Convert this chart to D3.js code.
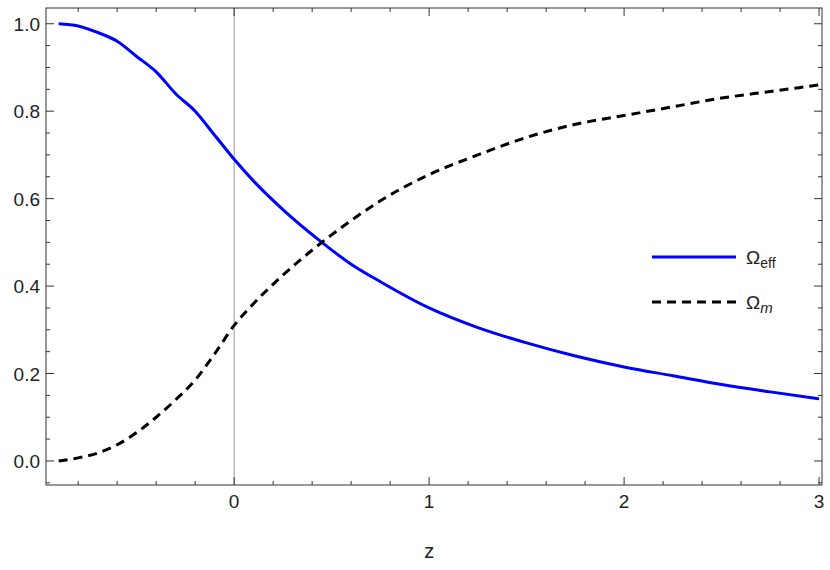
<!DOCTYPE html>
<html><head><meta charset="utf-8">
<script src="https://cdn.jsdelivr.net/npm/d3@7"></script>
<style>body{margin:0;background:#fff}text{font-family:"Liberation Sans",Arial,sans-serif}</style>
</head><body>
<script>
var zValues = [-0.9, -0.8, -0.7, -0.6, -0.5, -0.4, -0.3, -0.2, -0.1, 0, 0.1, 0.25, 0.45, 0.6, 0.75, 1, 1.25, 1.5, 1.75, 2, 2.25, 2.5, 2.75, 3];
var omegaEff = [1.0, 0.995, 0.98, 0.96, 0.925, 0.89, 0.84, 0.8, 0.745, 0.69, 0.64, 0.575, 0.5, 0.45, 0.41, 0.35, 0.305, 0.27, 0.24, 0.215, 0.195, 0.175, 0.158, 0.142];
var omegaM = [0.0, 0.007, 0.018, 0.037, 0.065, 0.1, 0.14, 0.185, 0.245, 0.31, 0.36, 0.425, 0.5, 0.55, 0.595, 0.655, 0.7, 0.74, 0.77, 0.79, 0.81, 0.83, 0.845, 0.86];
var xTicks = [0, 1, 2, 3];
var yTicks = [0, 0.2, 0.4, 0.6, 0.8, 1.0];

var width = 830, height = 570;
var pLeft = 46, pRight = 822, pTop = 8, pBottom = 485;

var svg = d3.select("body").append("svg").attr("width", width).attr("height", height);

var x = d3.scaleLinear().domain([-0.965, 3.015]).range([pLeft, pRight]);
var y = d3.scaleLinear().domain([-0.055, 1.036]).range([pBottom, pTop]);

// zero line
svg.append("line").attr("x1", x(0)).attr("x2", x(0)).attr("y1", pTop).attr("y2", pBottom)
  .attr("stroke", "#999").attr("stroke-width", 1);

// frame
svg.append("rect").attr("x", pLeft).attr("y", pTop).attr("width", pRight - pLeft).attr("height", pBottom - pTop)
  .attr("fill", "none").attr("stroke", "#333").attr("stroke-width", 1);

var g = svg.append("g").attr("stroke", "#333").attr("stroke-width", 1);
d3.range(-0.8, 3.01, 0.2).forEach(function (v) {
  v = Math.round(v * 10) / 10;
  var len = xTicks.indexOf(v) >= 0 ? 8 : 4;
  g.append("line").attr("x1", x(v)).attr("x2", x(v)).attr("y1", pBottom).attr("y2", pBottom - len);
  g.append("line").attr("x1", x(v)).attr("x2", x(v)).attr("y1", pTop).attr("y2", pTop + len);
});
d3.range(-0.05, 1.03, 0.05).forEach(function (v) {
  v = Math.round(v * 100) / 100;
  var len = yTicks.indexOf(v) >= 0 ? 8 : 4;
  g.append("line").attr("y1", y(v)).attr("y2", y(v)).attr("x1", pLeft).attr("x2", pLeft + len);
  g.append("line").attr("y1", y(v)).attr("y2", y(v)).attr("x1", pRight).attr("x2", pRight - len);
});

svg.selectAll(".xt").data(xTicks).enter().append("text")
  .attr("x", function (d) { return x(d); }).attr("y", pBottom + 23)
  .attr("text-anchor", "middle").attr("font-size", 19).attr("fill", "#222").text(function (d) { return d; });
svg.selectAll(".yt").data(yTicks).enter().append("text")
  .attr("x", pLeft - 6).attr("y", function (d) { return y(d) + 7; })
  .attr("text-anchor", "end").attr("font-size", 19).attr("fill", "#222").text(function (d) { return d.toFixed(1); });
svg.append("text").attr("x", x(1)).attr("y", 558).attr("text-anchor", "middle")
  .attr("font-size", 20).attr("fill", "#222").text("z");

var line = d3.line().curve(d3.curveMonotoneX)
  .x(function (d) { return x(d[0]); }).y(function (d) { return y(d[1]); });

svg.append("path").datum(d3.zip(zValues, omegaEff)).attr("d", line)
  .attr("fill", "none").attr("stroke", "#0000ff").attr("stroke-width", 3);
svg.append("path").datum(d3.zip(zValues, omegaM)).attr("d", line)
  .attr("fill", "none").attr("stroke", "#000").attr("stroke-width", 3).attr("stroke-dasharray", "9,6");

// legend
svg.append("line").attr("x1", 652).attr("x2", 736).attr("y1", 257).attr("y2", 257)
  .attr("stroke", "#0000ff").attr("stroke-width", 3);
svg.append("line").attr("x1", 652).attr("x2", 736).attr("y1", 302).attr("y2", 302)
  .attr("stroke", "#000").attr("stroke-width", 3).attr("stroke-dasharray", "9,6");
var t1 = svg.append("text").attr("x", 746).attr("y", 264).attr("font-size", 19).attr("fill", "#222");
t1.append("tspan").text("Ω");
t1.append("tspan").attr("font-size", 14).attr("dy", 4).text("eff");
var t2 = svg.append("text").attr("x", 746).attr("y", 309).attr("font-size", 19).attr("fill", "#222");
t2.append("tspan").text("Ω");
t2.append("tspan").attr("font-size", 15).attr("dy", 4).attr("font-style", "italic").text("m");
</script>
</body></html>
